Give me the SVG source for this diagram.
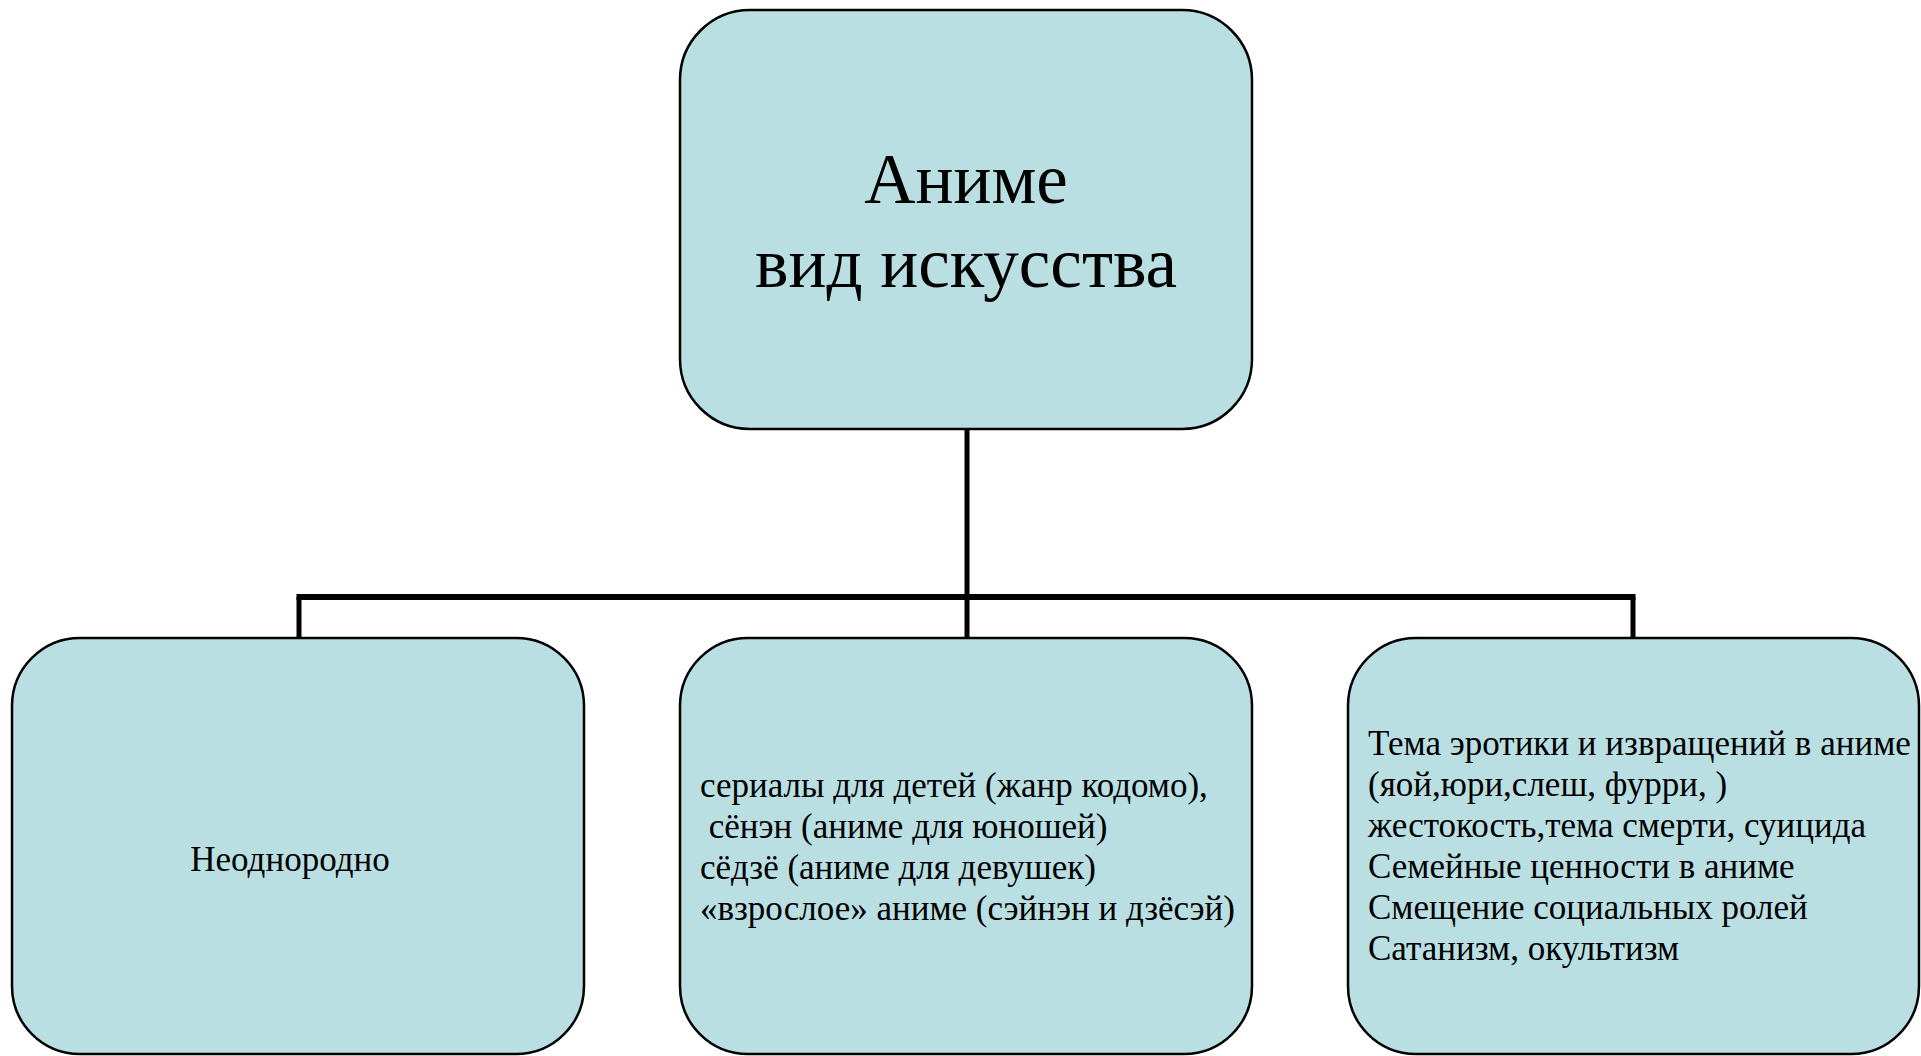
<svg xmlns="http://www.w3.org/2000/svg" width="1921" height="1056" viewBox="0 0 1921 1056">
<style>
.box{fill:#B9DFE2;stroke:#000;stroke-width:2.5}
.t{font-family:"Liberation Serif","Times New Roman",serif;fill:#000}
.big{font-size:71px}
.sm{font-size:35px}
.con{fill:none;stroke:#000;stroke-linecap:butt}
</style>
<rect width="1921" height="1056" fill="#fff"/>
<g id="connectors">
<line class="con" x1="967" y1="429" x2="967" y2="639" stroke-width="5"/>
<line class="con" x1="299" y1="597" x2="299" y2="639" stroke-width="5"/>
<line class="con" x1="1633" y1="597" x2="1633" y2="639" stroke-width="5"/>
<line class="con" x1="296.5" y1="597" x2="1635.5" y2="597" stroke-width="6"/>
</g>
<g id="root">
<rect class="box" x="680" y="10" width="572" height="419" rx="70" ry="70"/>
<text class="t big" text-anchor="middle" x="966" y="203">Аниме</text>
<text class="t big" text-anchor="middle" x="966" y="287">вид искусства</text>
</g>
<g id="node-left">
<rect class="box" x="12" y="638" width="572" height="416" rx="68" ry="68"/>
<text class="t sm" text-anchor="middle" x="290" y="871">Неоднородно</text>
</g>
<g id="node-middle">
<rect class="box" x="680" y="638" width="572" height="416" rx="68" ry="68"/>
<text class="t sm" xml:space="preserve"><tspan x="700" y="797">сериалы для детей (жанр кодомо),</tspan><tspan x="700" y="838"> сёнэн (аниме для юношей)</tspan><tspan x="700" y="879">сёдзё (аниме для девушек)</tspan><tspan x="700" y="920">«взрослое» аниме (сэйнэн и дзёсэй)</tspan></text>
</g>
<g id="node-right">
<rect class="box" x="1348" y="638" width="571" height="416" rx="68" ry="68"/>
<text class="t sm" xml:space="preserve"><tspan x="1368" y="755">Тема эротики и извращений в аниме</tspan><tspan x="1368" y="796">(яой,юри,слеш, фурри, )</tspan><tspan x="1368" y="837">жестокость,тема смерти, суицида</tspan><tspan x="1368" y="878">Семейные ценности в аниме</tspan><tspan x="1368" y="919">Смещение социальных ролей</tspan><tspan x="1368" y="960">Сатанизм, окультизм</tspan></text>
</g>
</svg>
